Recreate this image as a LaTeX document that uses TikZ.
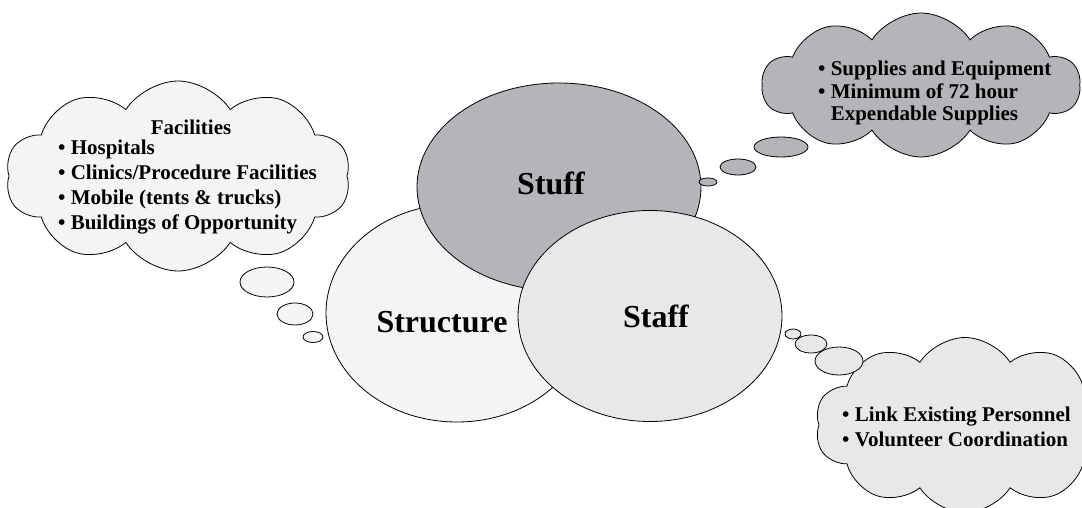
\documentclass[tikz,border=0pt]{standalone}
\usepackage{fontspec}
\setmainfont{Liberation Serif}
\usetikzlibrary{shapes.geometric,shapes.symbols}

\definecolor{stuffgray}{HTML}{B4B5B9}
\definecolor{structgray}{HTML}{F4F4F4}
\definecolor{staffgray}{HTML}{E7E8EA}

\tikzset{
  blob/.style={ellipse,draw=black,thick,fill=#1,inner sep=0pt},
  puff/.style={cloud,cloud puffs=10,cloud puff arc=115,cloud ignores aspect,
    draw=black,thick,fill=#1,inner sep=0pt},
  bubble/.style={ellipse,draw=black,thick,fill=#1,inner sep=0pt},
  biglabel/.style={font=\fontsize{32}{38}\selectfont\bfseries},
  listtext/.style={align=left,font=\fontsize{21}{25}\selectfont\bfseries,inner sep=0pt}
}

\begin{document}
\begin{tikzpicture}[x=1pt,y=-1pt]

    \clip (0,0) rectangle (1082,508);

    % Three overlapping ellipses
    \node [blob=structgray,minimum width=262pt,minimum height=218pt] (structure) at (457,313) {};
    \node [blob=stuffgray,minimum width=284pt,minimum height=208pt] (stuff) at (559,187) {};
    \node [blob=staffgray,minimum width=264pt,minimum height=211pt] (staff) at (650,316) {};
    \node [biglabel] (structurelbl) at (442,322) {Structure};
    \node [biglabel] (stufflbl) at (551,183) {Stuff};
    \node [biglabel] (stafflbl) at (656,316) {Staff};

    % Facilities cloud (left)
    \node [puff=structgray,minimum width=345pt,minimum height=190pt] (faccloud) at (178,176) {};
    \node [bubble=structgray,minimum width=54pt,minimum height=30pt] (facb1) at (267,282) {};
    \node [bubble=structgray,minimum width=36pt,minimum height=22pt] (facb2) at (295,314) {};
    \node [bubble=structgray,minimum width=20pt,minimum height=11pt] (facb3) at (313,337) {};
    \node [listtext] (factitle) at (191,127) {Facilities};
    \node [listtext,anchor=west] (faclist) at (58,187)
        {• Hospitals\\• Clinics/Procedure Facilities\\• Mobile (tents \& trucks)\\• Buildings of Opportunity};

    % Supplies cloud (top right)
    \node [puff=stuffgray,minimum width=318pt,minimum height=144pt] (supcloud) at (921,85) {};
    \node [bubble=stuffgray,minimum width=54pt,minimum height=20pt] (supb1) at (781,147) {};
    \node [bubble=stuffgray,minimum width=36pt,minimum height=16pt] (supb2) at (738,167) {};
    \node [bubble=stuffgray,minimum width=18pt,minimum height=8pt] (supb3) at (708,182) {};
    \node [listtext,anchor=west,font=\fontsize{21}{22.5}\selectfont\bfseries] (suplist) at (818,93)
        {• Supplies and Equipment\\• Minimum of 72 hour\\\phantom{• }Expendable Supplies};

    % Personnel cloud (bottom right)
    \node [puff=staffgray,minimum width=300pt,minimum height=175pt] (perscloud) at (965,425) {};
    \node [bubble=staffgray,minimum width=16pt,minimum height=10pt] (persb1) at (793,334) {};
    \node [bubble=staffgray,minimum width=32pt,minimum height=18pt] (persb2) at (811,344) {};
    \node [bubble=staffgray,minimum width=48pt,minimum height=28pt] (persb3) at (839,361) {};
    \node [listtext,anchor=west] (perslist) at (842,427)
        {• Link Existing Personnel\\• Volunteer Coordination};

\end{tikzpicture}
\end{document}
